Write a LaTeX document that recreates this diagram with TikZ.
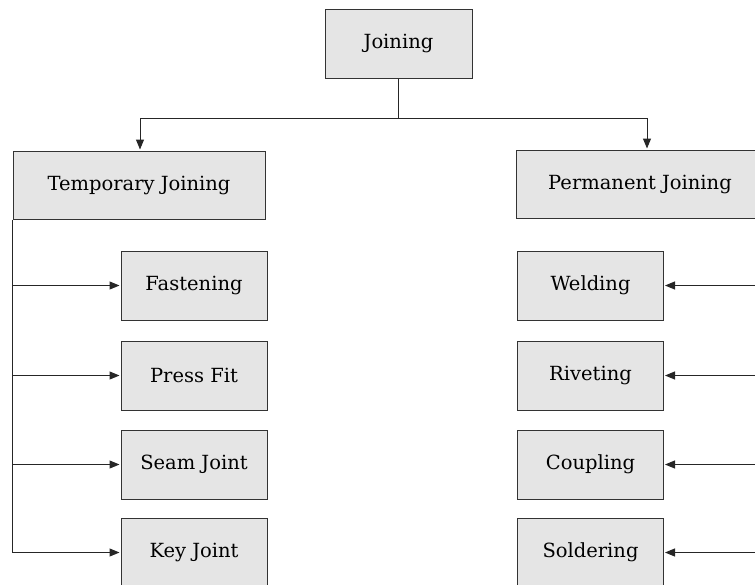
\documentclass[tikz,border=0pt]{standalone}
\usepackage{fontspec}
\setmainfont{DejaVu Serif}
\usetikzlibrary{arrows.meta,calc}
\begin{document}
\begin{tikzpicture}[x=1pt,y=-1pt,
  box/.style={draw=black!80,fill=black!10,line width=1pt,inner sep=0pt,
    font=\fontsize{19.5}{23}\selectfont},
  small/.style={box,minimum width=146pt,minimum height=69pt},
  conn/.style={line width=1pt,draw=black!85,-{Triangle[length=10pt,width=8pt]},shorten >=1pt},
  plain/.style={line width=1pt,draw=black!85}]
\useasboundingbox (0,0) rectangle (755,584);
\clip (0,0) rectangle (755,584);
% top
\node[box,minimum width=147pt,minimum height=69pt] (J) at (398.5,43.5) {Joining};
\node[box,minimum width=252pt,minimum height=68pt] (T) at (139,185) {Temporary Joining};
\node[box,minimum width=248pt,minimum height=68pt] (P) at (640,184) {Permanent Joining};
% left
\node[small] (F) at (194,285.5) {Fastening};
\node[small] (PF) at (194,375.5) {Press Fit};
\node[small] (SJ) at (194,464.5) {Seam Joint};
\node[small] (KJ) at (194,552.5) {Key Joint};
% right
\node[small] (W) at (590.5,285.5) {Welding};
\node[small] (R) at (590.5,375.5) {Riveting};
\node[small] (C) at (590.5,464.5) {Coupling};
\node[small] (S) at (590.5,552.5) {Soldering};
% top connectors
\coordinate (H) at ($(J.south)+(0,40)$);
\coordinate (HL) at (140,118);
\coordinate (HR) at (647,118);
\draw[plain] (J.south) -- (H);
\draw[plain] (HL) -- (HR);
\draw[conn] (HL) -- (HL |- T.north);
\draw[conn] (HR) -- (HR |- P.north);
% left trunk
\coordinate (LB) at (T.south west |- KJ.west);
\draw[plain] (T.south west) -- (LB);
\foreach \n in {F,PF,SJ,KJ} \draw[conn] (T.south west |- \n.west) -- (\n.west);
% right trunk
\coordinate (RB) at (P.south east |- S.east);
\draw[plain] (P.south east) -- (RB);
\foreach \n in {W,R,C,S} \draw[conn] (P.south east |- \n.east) -- (\n.east);
\end{tikzpicture}
\end{document}
